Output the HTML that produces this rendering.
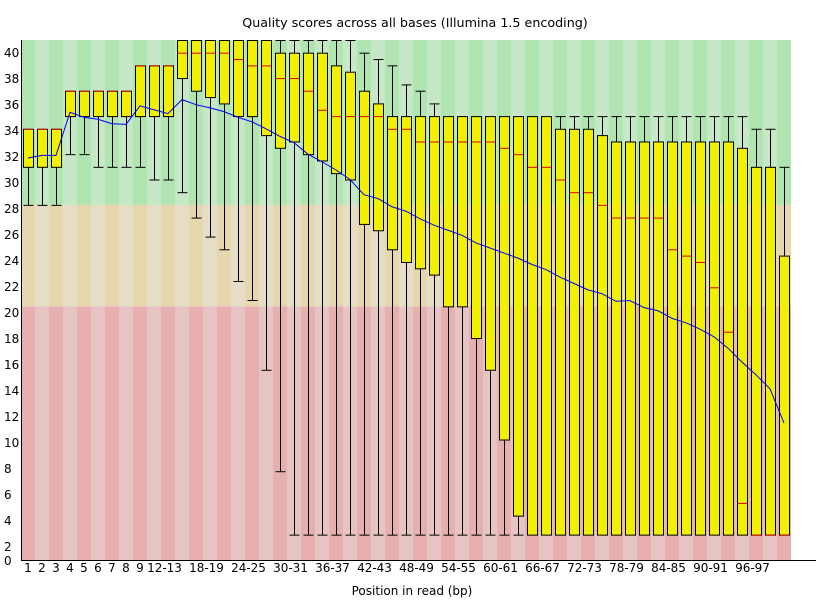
<!DOCTYPE html>
<html><head><meta charset="utf-8"><style>
html,body{margin:0;padding:0;background:#fff;}
svg{display:block;font-family:"DejaVu Sans","Liberation Sans",sans-serif;}
</style></head><body>
<svg id="chart" width="825" height="600" viewBox="0 0 825 600" xmlns="http://www.w3.org/2000/svg">
<text x="415" y="27" font-size="12.7" text-anchor="middle">Quality scores across all bases (Illumina 1.5 encoding)</text>
<g id="bg"></g><g id="boxes"></g><g id="axes"></g>
<text x="412" y="595" font-size="12" text-anchor="middle">Position in read (bp)</text>
</svg>
<script>
const categories = ["1","2","3","4","5","6","7","8","9","10-11","12-13","14-15","16-17","18-19","20-21","22-23","24-25","26-27","28-29","30-31","32-33","34-35","36-37","38-39","40-41","42-43","44-45","46-47","48-49","50-51","52-53","54-55","56-57","58-59","60-61","62-63","64-65","66-67","68-69","70-71","72-73","74-75","76-77","78-79","80-81","82-83","84-85","86-87","88-89","90-91","92-93","94-95","96-97","98-99","100-101"];
const shownLabels = ["1","2","3","4","5","6","7","8","9","12-13","18-19","24-25","30-31","36-37","42-43","48-49","54-55","60-61","66-67","72-73","78-79","84-85","90-91","96-97"];
const lowerWhisker = [28,28,28,32,32,31,31,31,31,30,30,29,27,25.5,24.5,22,20.5,15,7,2,2,2,2,2,2,2,2,2,2,2,2,2,2,2,2,2,2,2,2,2,2,2,2,2,2,2,2,2,2,2,2,2,2,2,2];
const q1 = [31,31,31,35,35,35,35,35,35,35,35,38,37,36.5,36,35,35,33.5,32.5,33,32,31.5,30.5,30,26.5,26,24.5,23.5,23,22.5,20,20,17.5,15,9.5,3.5,2,2,2,2,2,2,2,2,2,2,2,2,2,2,2,2,2,2,2];
const medians = [34,34,34,37,37,37,37,37,39,39,39,40,40,40,40,39.5,39,39,38,38,37,35.5,35,35,35,35,34,34,33,33,33,33,33,33,32.5,32,31,31,30,29,29,28,27,27,27,27,24.5,24,23.5,21.5,18,4.5,2,2,2];
const q3 = [34,34,34,37,37,37,37,37,39,39,39,41,41,41,41,41,41,41,40,40,40,40,39,38.5,37,36,35,35,35,35,35,35,35,35,35,35,35,35,34,34,34,33.5,33,33,33,33,33,33,33,33,33,32.5,31,31,24];
const upperWhisker = [34,34,34,37,37,37,37,37,39,39,39,41,41,41,41,41,41,41,41,41,41,41,41,41,40,39.5,39,37.5,37,36,35,35,35,35,35,35,35,35,35,35,35,35,35,35,35,35,35,35,35,35,35,35,34,34,31];
const means = [31.7,31.9,31.9,35.3,34.9,34.75,34.4,34.35,35.8,35.5,35.2,36.3,35.9,35.65,35.35,34.9,34.55,34.0,33.4,32.9,32.0,31.4,30.75,30.0,28.8,28.5,27.85,27.5,26.9,26.4,26.0,25.6,25.0,24.6,24.2,23.8,23.3,22.9,22.3,21.8,21.3,21.0,20.4,20.45,19.9,19.65,19.05,18.7,18.2,17.6,16.7,15.6,14.6,13.5,10.8];
const yTicks = [2,4,6,8,10,12,14,16,18,20,22,24,26,28,30,32,34,36,38,40];

const NS="http://www.w3.org/2000/svg";
const L=21, T=40, B=560, CW=14, VMAX=41, VMIN=0;
function y(v){return B-(v-VMIN)*(B-T)/(VMAX-VMIN);}
function xl(i){return L+CW*i;}
function xc(i){return L+CW*i+CW/2;}
function mk(tag,attrs,parent){const e=document.createElementNS(NS,tag);for(const k in attrs)e.setAttribute(k,attrs[k]);parent.appendChild(e);return e;}
const bg=document.getElementById('bg'), bx=document.getElementById('boxes'), ax=document.getElementById('axes');
const zones=[[28,VMAX,'#b0e4b0','#c6e8c6'],[20,28,'#e6d7ae','#e6ddc6'],[VMIN,20,'#e6b0b0','#e6c4c4']];
categories.forEach((c,i)=>{
  zones.forEach(z=>{
    const r=mk('rect',{x:xl(i),y:y(z[1]),width:CW,height:y(z[0])-y(z[1]),fill:i%2===0?z[2]:z[3]},bg);
    
    
  });
});
categories.forEach((c,i)=>{
  const g=mk('g',{},bx);
  
  
  const cx=xc(i)+0.5, bl=xl(i)+2.5, bw=10;
  if(upperWhisker[i]>q3[i]){
    mk('line',{x1:cx,x2:cx,y1:y(upperWhisker[i]),y2:y(q3[i]),stroke:'#000','stroke-width':1},g);
    mk('line',{x1:bl,x2:bl+bw,y1:y(upperWhisker[i])+0.5,y2:y(upperWhisker[i])+0.5,stroke:'#000','stroke-width':1},g);
  }
  if(lowerWhisker[i]<q1[i]){
    mk('line',{x1:cx,x2:cx,y1:y(q1[i]),y2:y(lowerWhisker[i]),stroke:'#000','stroke-width':1},g);
    mk('line',{x1:bl,x2:bl+bw,y1:y(lowerWhisker[i])+0.5,y2:y(lowerWhisker[i])+0.5,stroke:'#000','stroke-width':1},g);
  }
  mk('rect',{x:bl,y:y(q3[i])+0.5,width:bw,height:y(q1[i])-y(q3[i]),fill:'#f0f000',stroke:'#000','stroke-width':1},g);
  mk('line',{x1:bl+0.5,x2:bl+bw-0.5,y1:y(medians[i])+0.5,y2:y(medians[i])+0.5,stroke:'#e00000','stroke-width':1},g);
});
const pts=means.map((m,i)=>xc(i)+','+y(m)).join(' ');
const ml=mk('polyline',{points:pts,fill:'none',stroke:'#0000ff','stroke-width':1},bx);


const yAxis=mk('line',{x1:L+0.5,x2:L+0.5,y1:T,y2:B,stroke:'#000','stroke-width':1},ax);


const xAxis=mk('line',{x1:L,x2:816,y1:B+0.5,y2:B+0.5,stroke:'#000','stroke-width':1},ax);


yTicks.forEach(v=>{
  const t=mk('text',{x:4,y:53+(40-v)*13+4,'font-size':12},ax);
  t.textContent=v;
  
  
});
const z=mk('text',{x:4,y:565,'font-size':12},ax);
z.textContent='0';


shownLabels.forEach(lab=>{
  const i=categories.indexOf(lab);
  const off=lab.length>1?-3.5:0;
  const t=mk('text',{x:xc(i)+off,y:572,'font-size':12,'text-anchor':'middle'},ax);
  t.textContent=lab;
  
  
});
</script>
</body></html>
